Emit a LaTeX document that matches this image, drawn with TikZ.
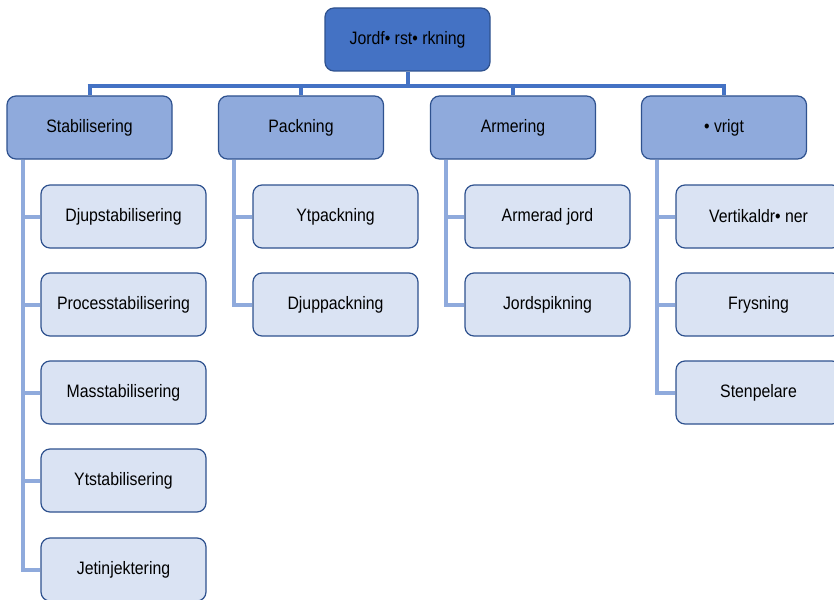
\documentclass[tikz,border=0pt]{standalone}
\usepackage{fontspec}
\setmainfont{Liberation Sans}[FakeStretch=0.88]
\usetikzlibrary{backgrounds}
\definecolor{rootfill}{HTML}{4472C4}
\definecolor{midfill}{HTML}{8FAADC}
\definecolor{leaffill}{HTML}{DAE3F3}
\definecolor{edge}{HTML}{2F528F}
\tikzset{
  box/.style={draw=edge, line width=1.2pt, rounded corners=9pt, minimum width=165pt, minimum height=63pt, inner sep=0pt, font=\fontsize{18}{20}\selectfont, text=black},
  rootbox/.style={box, fill=rootfill},
  midbox/.style={box, fill=midfill},
  leafbox/.style={box, fill=leaffill},
  topline/.style={draw=rootfill, line width=4pt},
  subline/.style={draw=midfill, line width=4pt},
}
\begin{document}
\begin{tikzpicture}[x=1pt, y=-1pt]
\clip (0,0) rectangle (834,599);
\coordinate (bus) at (407,86);
% root
\node[rootbox] (root) at (407.5,39.5) {Jordf• rst• rkning};
% level 1
\node[midbox] (s) at (89.5,127.5) {Stabilisering};
\node[midbox] (p) at (301,127.5) {Packning};
\node[midbox] (a) at (513,127.5) {Armering};
\node[midbox] (o) at (724,127.5) {• vrigt};
% leaves
\node[leafbox] (s1) at (123.5,216.5) {Djupstabilisering};
\node[leafbox] (s2) at (123.5,304.5) {Processtabilisering};
\node[leafbox] (s3) at (123.5,392.5) {Masstabilisering};
\node[leafbox] (s4) at (123.5,480.5) {Ytstabilisering};
\node[leafbox] (s5) at (123.5,569.5) {Jetinjektering};
\node[leafbox] (p1) at (335.5,216.5) {Ytpackning};
\node[leafbox] (p2) at (335.5,304.5) {Djuppackning};
\node[leafbox] (a1) at (547.5,216.5) {Armerad jord};
\node[leafbox] (a2) at (547.5,304.5) {Jordspikning};
\node[leafbox] (o1) at (758.5,216.5) {Vertikaldr• ner};
\node[leafbox] (o2) at (758.5,304.5) {Frysning};
\node[leafbox] (o3) at (758.5,392.5) {Stenpelare};
\begin{scope}[on background layer]
\fill[white] (0,0) rectangle (834,599);
% top connectors
\draw[topline] (root.south) -- (root.south |- bus);
\draw[topline] ([xshift=-2pt]s.north |- bus) -- ([xshift=2pt]o.north |- bus);
\foreach \n in {s,p,a,o} \draw[topline] (\n.north |- bus) -- (\n.north);
% sub connectors
\foreach \pa/\kids in {s/{s1,s2,s3,s4,s5}, p/{p1,p2}, a/{a1,a2}, o/{o1,o2,o3}} {
  \foreach \k in \kids {
    \draw[subline] ([xshift=-67pt]\pa.south) |- (\k.west);
  }
}
\end{scope}
\end{tikzpicture}
\end{document}
